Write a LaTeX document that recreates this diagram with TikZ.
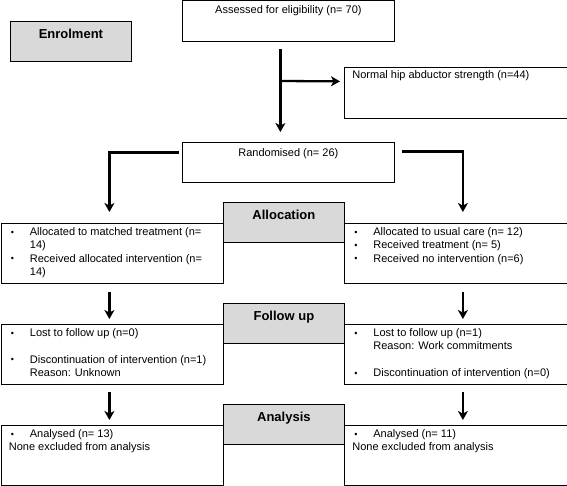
\documentclass[tikz,border=0pt]{standalone}
\usepackage{fontspec}
\setmainfont{Liberation Sans}
\usetikzlibrary{arrows.meta}
\newcommand\bxt[3]{\parbox[c][#2][t]{#1}{#3}}
\newcommand\bl{\hspace*{10pt}\makebox[19pt][l]{\raisebox{0.3pt}{\fontsize{9}{10}\selectfont\textbullet}}}
\newcommand\ind{\hspace*{29pt}}
\tikzset{
  box/.style={draw=black, line width=0.8pt, inner sep=0pt, anchor=north west, fill=white},
  hdr/.style={draw=black, line width=0.8pt, inner sep=0pt, anchor=north west, fill=black!15},
  arr/.style={line width=2.3pt, -{Stealth[length=9pt,width=10pt,inset=2.5pt]}},
  body/.style={font=\fontsize{11}{13.3}\selectfont},
  head/.style={font=\fontsize{13}{15}\selectfont\bfseries}
}
\begin{document}
\begin{tikzpicture}[x=1pt,y=-1pt]
\useasboundingbox (0,0) rectangle (567,486);
% enrolment
\node[hdr,head] (enrol) at (10,21) {\bxt{121pt}{40pt}{\centering\rule{0pt}{17pt}Enrolment}};
\node[box,body] (assess) at (182,0.5) {\bxt{212pt}{40.5pt}{\centering\rule{0pt}{12.5pt}Assessed for eligibility (n= 70)}};
\node[box,body] (normal) at (344,67) {\bxt{222.5pt}{51pt}{\raggedright\rule{0pt}{11.5pt}\hspace*{8pt}Normal hip abductor strength (n=44)}};
\node[box,body] (rand) at (182,142) {\bxt{212pt}{40pt}{\centering\rule{0pt}{14pt}Randomised (n= 26)}};
% headers
\node[hdr,head] (galloc) at (223,202) {\bxt{121pt}{40pt}{\centering\rule{0pt}{17pt}Allocation}};
\node[hdr,head] (gfollow) at (223,303) {\bxt{121pt}{40pt}{\centering\rule{0pt}{17pt}Follow up}};
\node[hdr,head] (ganal) at (223,404) {\bxt{121pt}{40pt}{\centering\rule{0pt}{17pt}Analysis}};
% allocation row
\node[box,body] (la) at (0.5,223) {\bxt{222.5pt}{60pt}{\raggedright\rule{0pt}{12pt}\bl Allocated to matched treatment (n=\\
\ind 14)\\
\bl Received allocated intervention (n=\\
\ind 14)}};
\node[box,body] (ra) at (344,223) {\bxt{222.5pt}{60pt}{\raggedright\rule{0pt}{12pt}\bl Allocated to usual care (n= 12)\\
\bl Received treatment (n= 5)\\
\bl Received no intervention (n=6)}};
% follow up row
\node[box,body] (lf) at (0.5,324) {\bxt{222.5pt}{60pt}{\raggedright\rule{0pt}{12pt}\bl Lost to follow up (n=0)\\[13.3pt]
\bl Discontinuation of intervention (n=1)\\
\ind Reason: Unknown}};
\node[box,body] (rf) at (344,324) {\bxt{222.5pt}{60pt}{\raggedright\rule{0pt}{12pt}\bl Lost to follow up (n=1)\\
\ind Reason: Work commitments\\[13.3pt]
\bl Discontinuation of intervention (n=0)}};
% analysis row
\node[box,body] (ln) at (0.5,425) {\bxt{222.5pt}{60pt}{\raggedright\rule{0pt}{12pt}\bl Analysed (n= 13)\\
\hspace*{8pt}None excluded from analysis}};
\node[box,body] (rn) at (344,425) {\bxt{222.5pt}{60pt}{\raggedright\rule{0pt}{12pt}\bl Analysed (n= 11)\\
\hspace*{8pt}None excluded from analysis}};
% arrows
\draw[arr, shorten <=7pt, shorten >=10pt] ([xshift=-8pt]assess.south) -- ([xshift=-8pt]rand.north);
\coordinate (brs) at (280,81);
\draw[arr, shorten >=4pt] (brs) -- ([yshift=11.5pt]normal.west);
\draw[arr, shorten <=3pt, shorten >=11pt] ([yshift=10pt]rand.west) -| ([xshift=-2.75pt]la.north);
\draw[arr, shorten <=7pt, shorten >=11pt] ([yshift=11pt]rand.east) -| ([xshift=7.25pt]ra.north);
\draw[arr, shorten <=8pt, shorten >=5pt] ([xshift=-2.75pt]la.south) -- ([xshift=-2.75pt]lf.north);
\draw[arr, shorten <=8pt, shorten >=5pt] ([xshift=7.25pt]ra.south) -- ([xshift=7.25pt]rf.north);
\draw[arr, shorten <=7pt, shorten >=5pt] ([xshift=-2.75pt]lf.south) -- ([xshift=-2.75pt]ln.north);
\draw[arr, shorten <=7pt, shorten >=5pt] ([xshift=7.25pt]rf.south) -- ([xshift=7.25pt]rn.north);
\end{tikzpicture}
\end{document}
